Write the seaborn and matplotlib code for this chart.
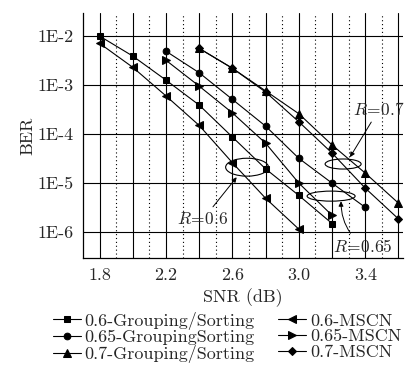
import numpy as np
import pandas as pd
import matplotlib
matplotlib.use("Agg")
import matplotlib.pyplot as plt
from matplotlib.patches import Ellipse
import seaborn as sns

# BER vs SNR
snr_gs06 = [1.8, 2.0, 2.2, 2.4, 2.6, 2.8, 3.0, 3.2]
ber_gs06 = [1.0e-2, 3.9e-3, 1.26e-3, 3.9e-4, 8.7e-5, 1.95e-5, 5.6e-6, 1.5e-6]

snr_gs065 = [2.2, 2.4, 2.6, 2.8, 3.0, 3.2, 3.4]
ber_gs065 = [4.9e-3, 1.78e-3, 5.1e-4, 1.45e-4, 3.2e-5, 1.0e-5, 3.2e-6]

snr_gs07 = [2.4, 2.6, 2.8, 3.0, 3.2, 3.4, 3.6]
ber_gs07 = [5.6e-3, 2.2e-3, 7.6e-4, 2.6e-4, 6.0e-5, 1.6e-5, 3.9e-6]

snr_ms06 = [1.8, 2.0, 2.2, 2.4, 2.6, 2.8, 3.0]
ber_ms06 = [7.1e-3, 2.3e-3, 6.0e-4, 1.5e-4, 2.6e-5, 4.9e-6, 1.15e-6]

snr_ms065 = [2.2, 2.4, 2.6, 2.8, 3.0, 3.2]
ber_ms065 = [3.2e-3, 9.5e-4, 2.7e-4, 6.5e-5, 1.0e-5, 2.2e-6]

snr_ms07 = [2.4, 2.6, 2.8, 3.0, 3.2, 3.4, 3.6]
ber_ms07 = [5.6e-3, 2.2e-3, 7.2e-4, 1.78e-4, 4.1e-5, 7.9e-6, 1.86e-6]

series = [
    ("0.6-Grouping/Sorting", snr_gs06, ber_gs06, "s"),
    ("0.65-GroupingSorting", snr_gs065, ber_gs065, "o"),
    ("0.7-Grouping/Sorting", snr_gs07, ber_gs07, "^"),
    ("0.6-MSCN", snr_ms06, ber_ms06, "<"),
    ("0.65-MSCN", snr_ms065, ber_ms065, ">"),
    ("0.7-MSCN", snr_ms07, ber_ms07, "D"),
]

ytick_vals = [1e-2, 1e-3, 1e-4, 1e-5, 1e-6]
ytick_labels = ["1E-2", "1E-3", "1E-4", "1E-5", "1E-6"]
xtick_vals = [1.8, 2.2, 2.6, 3.0, 3.4]

sns.set_style("white")
plt.rcParams["font.family"] = ["cmr10", "DejaVu Serif"]
plt.rcParams["mathtext.fontset"] = "cm"
plt.rcParams["axes.unicode_minus"] = False

fig = plt.figure(figsize=(4.12, 3.83), dpi=100)
ax = fig.add_axes([0.2015, 0.326, 0.777, 0.64])

msize = {"s": 4.5, "o": 4.8, "^": 5.2, "<": 5.2, ">": 5.2, "D": 4.2}
for label, x, y, m in series:
    sns.lineplot(x=x, y=y, ax=ax, color="black", lw=0.8, marker=m,
                 markersize=msize[m], markeredgecolor="black", label=label)

ax.set_yscale("log")
ax.set_xlim(1.7, 3.628)
ax.set_ylim(10 ** -6.53, 10 ** -1.53)

# grid: solid every 0.2 dB and per decade, dotted at odd tenths
for xv in np.arange(1.8, 3.65, 0.2):
    ax.axvline(xv, color="black", lw=0.8, zorder=0)
for xv in np.arange(1.9, 3.55, 0.2):
    ax.axvline(xv, color="black", lw=0.8, ls=(0, (1, 2.5)), zorder=0)
for yv in ytick_vals:
    ax.axhline(yv, color="black", lw=0.8, zorder=0)

ax.set_xticks(xtick_vals)
ax.set_xticklabels([f"{v:.1f}" for v in xtick_vals])
ax.set_yticks(ytick_vals)
ax.set_yticklabels(ytick_labels)
ax.minorticks_off()
ax.tick_params(length=0, labelsize=13, pad=7)
for s in ["top", "right"]:
    ax.spines[s].set_visible(False)
for s in ["left", "bottom"]:
    ax.spines[s].set_color("black")
    ax.spines[s].set_linewidth(0.9)

ax.set_xlabel("SNR (dB)", fontsize=13, labelpad=4)
ax.set_ylabel("BER", fontsize=13, labelpad=1)

# rate annotations
for cx, cy, w, h in [(0.5125, 0.371, 0.134, 0.073),
                     (0.775, 0.253, 0.15, 0.041),
                     (0.8125, 0.384, 0.1125, 0.041)]:
    ax.add_patch(Ellipse((cx, cy), w, h, transform=ax.transAxes,
                         fill=False, ec="black", lw=0.8, zorder=5))

arrow = dict(arrowstyle="-|>", color="black", lw=0.7, mutation_scale=7,
             shrinkA=1, shrinkB=0)
ax.annotate(r"$R\!=\!0.6$", xy=(0.48, 0.33), xytext=(0.375, 0.159),
            xycoords="axes fraction", textcoords="axes fraction",
            ha="center", va="center", fontsize=12.5, arrowprops=arrow)
ax.annotate(r"$R\!=\!0.7$", xy=(0.834, 0.412), xytext=(0.925, 0.608),
            xycoords="axes fraction", textcoords="axes fraction",
            ha="center", va="center", fontsize=12.5, arrowprops=arrow)
ax.annotate(r"$R\!=\!0.65$", xy=(0.806, 0.232), xytext=(0.875, 0.049),
            xycoords="axes fraction", textcoords="axes fraction",
            ha="center", va="center", fontsize=12.5,
            arrowprops=dict(arrow, connectionstyle="arc3,rad=-0.25"))

handles, labels = ax.get_legend_handles_labels()
ax.get_legend().remove()
fig.legend(handles, labels, ncol=2, loc="upper left",
           bbox_to_anchor=(0.129, 0.186), frameon=False, fontsize=13,
           handlelength=1.55, handletextpad=0.2, columnspacing=1.3,
           labelspacing=0.0, borderaxespad=0, borderpad=0)

fig.savefig("out.png", dpi=100)
